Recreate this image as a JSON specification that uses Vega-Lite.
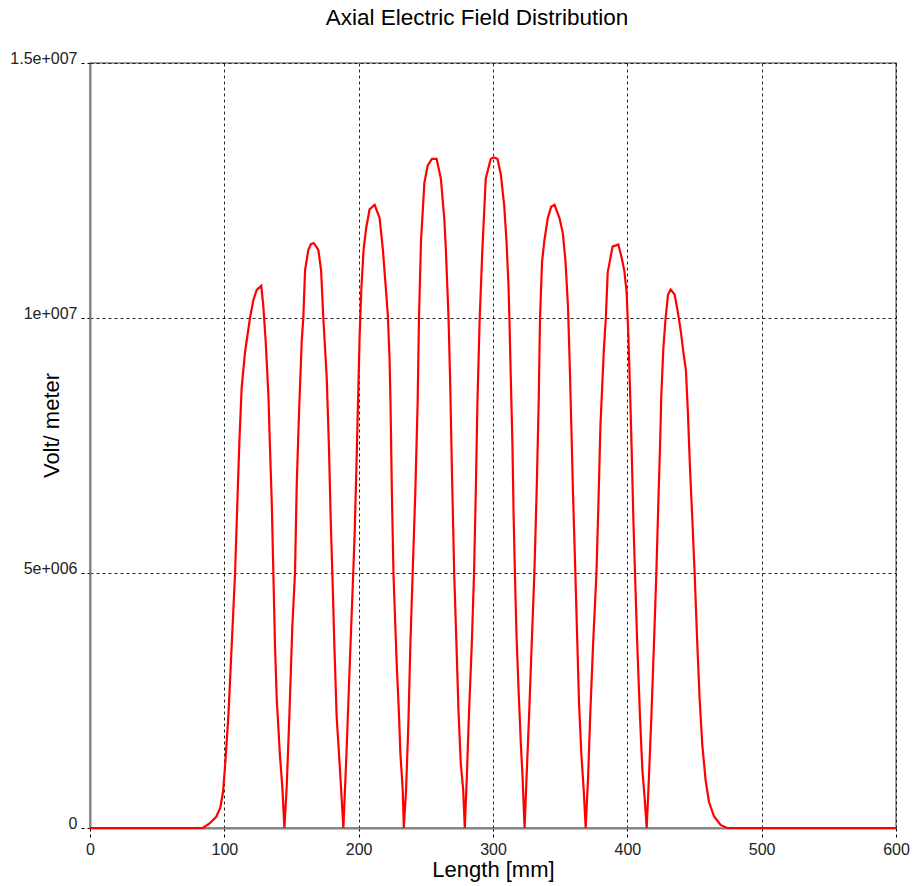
{
  "$schema": "https://vega.github.io/schema/vega-lite/v6.json",
  "autosize": "none",
  "width": 806,
  "height": 765,
  "padding": {"left": 90, "top": 63, "right": 17, "bottom": 58},
  "background": "white",
  "title": {
    "text": "Axial Electric Field Distribution",
    "font": "Liberation Sans",
    "fontSize": 22.5,
    "fontWeight": "normal",
    "color": "#000",
    "anchor": "middle",
    "frame": "group",
    "baseline": "alphabetic",
    "offset": 3,
    "dx": -16
  },
  "data": {
    "values": [
      {"x": 0, "v": 0}, {"x": 84, "v": 0}, {"x": 89, "v": 90000}, {"x": 94, "v": 220000},
      {"x": 97, "v": 400000}, {"x": 99, "v": 700000}, {"x": 100.5, "v": 1200000}, {"x": 103, "v": 2190000},
      {"x": 105.5, "v": 3590000}, {"x": 108, "v": 5000000}, {"x": 109.7, "v": 6390000}, {"x": 111.2, "v": 7580000},
      {"x": 112.9, "v": 8630000}, {"x": 115.4, "v": 9330000}, {"x": 119.1, "v": 10000000}, {"x": 121.6, "v": 10350000},
      {"x": 124.1, "v": 10550000}, {"x": 127.5, "v": 10630000}, {"x": 129, "v": 10240000}, {"x": 130.8, "v": 9540000},
      {"x": 132.8, "v": 8490000}, {"x": 134, "v": 7440000}, {"x": 135.3, "v": 6390000}, {"x": 136.5, "v": 5000000},
      {"x": 137.7, "v": 3590000}, {"x": 139, "v": 2540000}, {"x": 141.4, "v": 1420000}, {"x": 143.2, "v": 790000},
      {"x": 144.7, "v": 0}, {"x": 146.4, "v": 790000}, {"x": 148.4, "v": 2190000}, {"x": 150.6, "v": 3940000},
      {"x": 152.6, "v": 5000000}, {"x": 153.9, "v": 6740000}, {"x": 155.6, "v": 8140000}, {"x": 157.6, "v": 9540000},
      {"x": 158.8, "v": 10000000}, {"x": 160.1, "v": 10940000}, {"x": 162.5, "v": 11330000}, {"x": 164.5, "v": 11450000},
      {"x": 166.5, "v": 11470000}, {"x": 168.5, "v": 11400000}, {"x": 170, "v": 11330000}, {"x": 172, "v": 10940000},
      {"x": 173.7, "v": 10000000}, {"x": 176.2, "v": 8840000}, {"x": 177.9, "v": 7440000}, {"x": 179.2, "v": 6040000},
      {"x": 180.4, "v": 5000000}, {"x": 181.9, "v": 3590000}, {"x": 183.6, "v": 2190000}, {"x": 186.1, "v": 1140000},
      {"x": 188.6, "v": 0}, {"x": 190.9, "v": 1440000}, {"x": 193.3, "v": 3160000}, {"x": 195.8, "v": 4890000},
      {"x": 197, "v": 5750000}, {"x": 198.3, "v": 7040000}, {"x": 199.5, "v": 8340000}, {"x": 200.7, "v": 9630000},
      {"x": 202, "v": 10580000}, {"x": 203.7, "v": 11350000}, {"x": 205.7, "v": 11780000}, {"x": 208.1, "v": 12130000},
      {"x": 211.9, "v": 12220000}, {"x": 215.6, "v": 11960000}, {"x": 218, "v": 11350000}, {"x": 220, "v": 10660000},
      {"x": 221.7, "v": 10060000}, {"x": 223, "v": 9200000}, {"x": 223.7, "v": 8340000}, {"x": 224.7, "v": 6610000},
      {"x": 225.9, "v": 5000000}, {"x": 227.2, "v": 4030000}, {"x": 228.4, "v": 3160000}, {"x": 229.9, "v": 2300000},
      {"x": 231.1, "v": 1440000}, {"x": 232.8, "v": 750000}, {"x": 233.6, "v": 0}, {"x": 235.3, "v": 750000},
      {"x": 237, "v": 2040000}, {"x": 238.5, "v": 3600000}, {"x": 240.2, "v": 5000000}, {"x": 242.2, "v": 6610000},
      {"x": 243.9, "v": 8340000}, {"x": 244.9, "v": 10000000}, {"x": 246.4, "v": 11500000}, {"x": 248.9, "v": 12650000},
      {"x": 251.4, "v": 12990000}, {"x": 254.6, "v": 13120000}, {"x": 258, "v": 13120000}, {"x": 261.2, "v": 12730000},
      {"x": 263.7, "v": 11960000}, {"x": 264.9, "v": 11350000}, {"x": 266.9, "v": 10000000}, {"x": 268.1, "v": 8770000},
      {"x": 269.4, "v": 7040000}, {"x": 271.1, "v": 5000000}, {"x": 272.8, "v": 3600000}, {"x": 274.3, "v": 2300000},
      {"x": 276, "v": 1270000}, {"x": 277.8, "v": 750000}, {"x": 279, "v": 0}, {"x": 280.5, "v": 1000000},
      {"x": 282.2, "v": 2300000}, {"x": 284.2, "v": 3600000}, {"x": 285.9, "v": 5000000}, {"x": 287.2, "v": 6610000},
      {"x": 288.4, "v": 8340000}, {"x": 290.1, "v": 10000000}, {"x": 292.1, "v": 11350000}, {"x": 294.6, "v": 12730000},
      {"x": 298.3, "v": 13120000}, {"x": 300.5, "v": 13150000}, {"x": 303.3, "v": 13120000}, {"x": 305.8, "v": 12820000},
      {"x": 308.3, "v": 12220000}, {"x": 310, "v": 11530000}, {"x": 311.5, "v": 10660000}, {"x": 312.2, "v": 10000000},
      {"x": 313.3, "v": 8770000}, {"x": 314.5, "v": 7470000}, {"x": 315.3, "v": 6180000}, {"x": 316.3, "v": 5000000},
      {"x": 317.5, "v": 3770000}, {"x": 319, "v": 2730000}, {"x": 320.8, "v": 1610000}, {"x": 322, "v": 1000000},
      {"x": 323.5, "v": 0}, {"x": 325, "v": 1000000}, {"x": 327, "v": 2300000}, {"x": 328.8, "v": 3600000},
      {"x": 330.8, "v": 5000000}, {"x": 332.5, "v": 6610000}, {"x": 334, "v": 8340000}, {"x": 335, "v": 10000000},
      {"x": 336.5, "v": 11100000}, {"x": 338.3, "v": 11530000}, {"x": 340.8, "v": 11960000}, {"x": 343.3, "v": 12180000},
      {"x": 345.8, "v": 12220000}, {"x": 349.5, "v": 11960000}, {"x": 352, "v": 11660000}, {"x": 354, "v": 11100000},
      {"x": 355.8, "v": 10230000}, {"x": 357, "v": 9200000}, {"x": 358.3, "v": 7900000}, {"x": 359.5, "v": 6610000},
      {"x": 361.3, "v": 5000000}, {"x": 362.8, "v": 3600000}, {"x": 364, "v": 2470000}, {"x": 365.8, "v": 1440000},
      {"x": 367.5, "v": 750000}, {"x": 369, "v": 0}, {"x": 370.8, "v": 1000000}, {"x": 372.5, "v": 2300000},
      {"x": 374.5, "v": 3600000}, {"x": 377, "v": 5000000}, {"x": 378.3, "v": 6180000}, {"x": 380, "v": 7900000},
      {"x": 382.5, "v": 9370000}, {"x": 384, "v": 10000000}, {"x": 385.4, "v": 10900000}, {"x": 387.1, "v": 11130000},
      {"x": 389, "v": 11400000}, {"x": 393.3, "v": 11440000}, {"x": 395.8, "v": 11180000}, {"x": 397.8, "v": 10920000},
      {"x": 399.5, "v": 10490000}, {"x": 400.8, "v": 9630000}, {"x": 402, "v": 8600000}, {"x": 403.2, "v": 7440000},
      {"x": 404.5, "v": 6040000}, {"x": 405.7, "v": 5000000}, {"x": 407.4, "v": 3590000}, {"x": 409.4, "v": 2190000},
      {"x": 411.2, "v": 1140000}, {"x": 412.9, "v": 580000}, {"x": 414.4, "v": 0}, {"x": 416.1, "v": 1000000},
      {"x": 417.9, "v": 2190000}, {"x": 419.8, "v": 3590000}, {"x": 421.6, "v": 5000000}, {"x": 423.1, "v": 6390000},
      {"x": 424.3, "v": 7440000}, {"x": 425.3, "v": 8490000}, {"x": 426.8, "v": 9400000}, {"x": 428.5, "v": 10000000},
      {"x": 430.3, "v": 10460000}, {"x": 432.2, "v": 10560000}, {"x": 435.2, "v": 10460000}, {"x": 437.7, "v": 10100000},
      {"x": 439.7, "v": 9760000}, {"x": 441.7, "v": 9330000}, {"x": 443.6, "v": 8980000}, {"x": 445.1, "v": 8140000},
      {"x": 446.6, "v": 7090000}, {"x": 448.4, "v": 6040000}, {"x": 450.1, "v": 5000000}, {"x": 452.1, "v": 3590000},
      {"x": 453.8, "v": 2540000}, {"x": 455.8, "v": 1630000}, {"x": 458.3, "v": 930000}, {"x": 460.8, "v": 510000},
      {"x": 464.5, "v": 230000}, {"x": 469.4, "v": 60000}, {"x": 474.4, "v": 0}, {"x": 600, "v": 0}
    ]
  },
  "mark": {"type": "line", "color": "#ff0000", "strokeWidth": 2.2, "interpolate": "linear", "clip": false},
  "encoding": {
    "x": {
      "field": "x",
      "type": "quantitative",
      "scale": {"domain": [0, 600], "nice": false, "zero": false},
      "axis": {
        "title": "Length [mm]",
        "values": [0, 100, 200, 300, 400, 500, 600],
        "labelPadding": 4,
        "titleY": 48,
        "titleBaseline": "alphabetic"
      }
    },
    "y": {
      "field": "v",
      "type": "quantitative",
      "scale": {"domain": [0, 15000000], "nice": false},
      "axis": {
        "title": "Volt/ meter",
        "values": [0, 5000000, 10000000, 15000000],
        "labelExpr": "datum.value == 15000000 ? '1.5e+007' : datum.value == 10000000 ? '1e+007' : datum.value == 5000000 ? '5e+006' : '0'",
        "labelBaseline": "alphabetic",
        "labelPadding": 4,
        "titleX": -32,
        "titleY": 362,
        "titleBaseline": "alphabetic"
      }
    }
  },
  "config": {
    "view": {"stroke": "#808080", "strokeWidth": 1.5},
    "axis": {
      "grid": true,
      "gridColor": "#000",
      "gridDash": [3, 3],
      "gridWidth": 1,
      "gridOpacity": 0.85,
      "tickColor": "#000",
      "tickDash": [3, 3],
      "tickSize": 9,
      "tickWidth": 1,
      "domainColor": "#808080",
      "domainWidth": 2,
      "labelFont": "Liberation Sans",
      "labelFontSize": 16,
      "labelColor": "#222",
      "labelFlush": false,
      "labelOverlap": false,
      "titleFont": "Liberation Sans",
      "titleFontSize": 22,
      "titleFontWeight": "normal",
      "titleColor": "#000"
    }
  }
}
